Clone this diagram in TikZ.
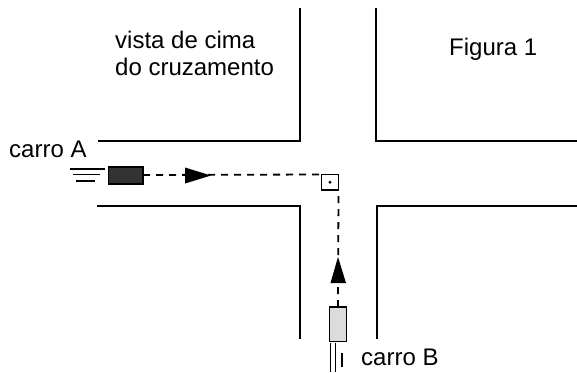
\documentclass[tikz,border=0pt]{standalone}
\usepackage{fontspec}
\setmainfont{Liberation Sans}
\definecolor{darkcar}{HTML}{333333}
\definecolor{lightcar}{HTML}{DCDCDC}
\begin{document}
\begin{tikzpicture}[x=1bp,y=-1bp,
  road/.style={line width=1.8bp,line join=miter},
  route/.style={line width=1.8bp,dash pattern=on 7bp off 6bp},
  wake/.style={line width=1.6bp},
  carbox/.style={draw,line width=1.6bp,minimum size=0pt,inner sep=0pt,outer sep=0pt,anchor=north west},
  lbl/.style={font=\fontsize{24bp}{27bp}\selectfont,inner sep=0pt,text=black},
  headtri/.style={fill=black,draw=none}]
\useasboundingbox (0,0) rectangle (577,372);
\fill[white] (0,0) rectangle (577,372);
% roads
\draw[road] (98,141) -- (300,141) -- (300,8);
\draw[road] (376,8) -- (376,141) -- (577,141);
\draw[road] (97,206) -- (300,206) -- (300,339);
\draw[road] (377,339) -- (377,206) -- (577,206);
% cars
\node[carbox,fill=darkcar,minimum width=34.5bp,minimum height=17bp] (carA) at (108.5,167) {};
\node[carbox,fill=lightcar,minimum width=17bp,minimum height=34.5bp] (carB) at (329.5,307) {};
% right-angle mark
\node[carbox,minimum width=17bp,minimum height=15.5bp] (mark) at (321.5,174.5) {};
\fill (mark.center) circle (1.6bp);
% routes
\coordinate (corner) at (mark.north west);
\draw[route] (carA.east |- 0,175) -- (corner);
\draw[route] (carB.north) -- (mark.south east);
% arrowheads
\fill[headtri] (185,167.5) -- (211,175.5) -- (185,183.5) -- cycle;
\fill[headtri] (338,257) -- (346,283) -- (330.5,283) -- cycle;
% wakes
\draw[wake] (70,169) -- (105,169);
\draw[wake] (73,174.5) -- (100,174.5);
\draw[wake] (76,181) -- (95,181);
\draw[wake] (330.5,343) -- (330.5,372);
\draw[wake] (335.5,343) -- (335.5,372);
\draw[wake] (342,353) -- (342,367);
% labels
\node[lbl,align=left,anchor=base west] (title) at (115,75) {vista de cima\\do cruzamento};
\node[lbl,anchor=base west] (fig) at (449,55) {Figura 1};
\node[lbl,anchor=base west] (labA) at (9,157) {carro A};
\node[lbl,anchor=base west] (labB) at (361,365) {carro B};
\end{tikzpicture}
\end{document}
